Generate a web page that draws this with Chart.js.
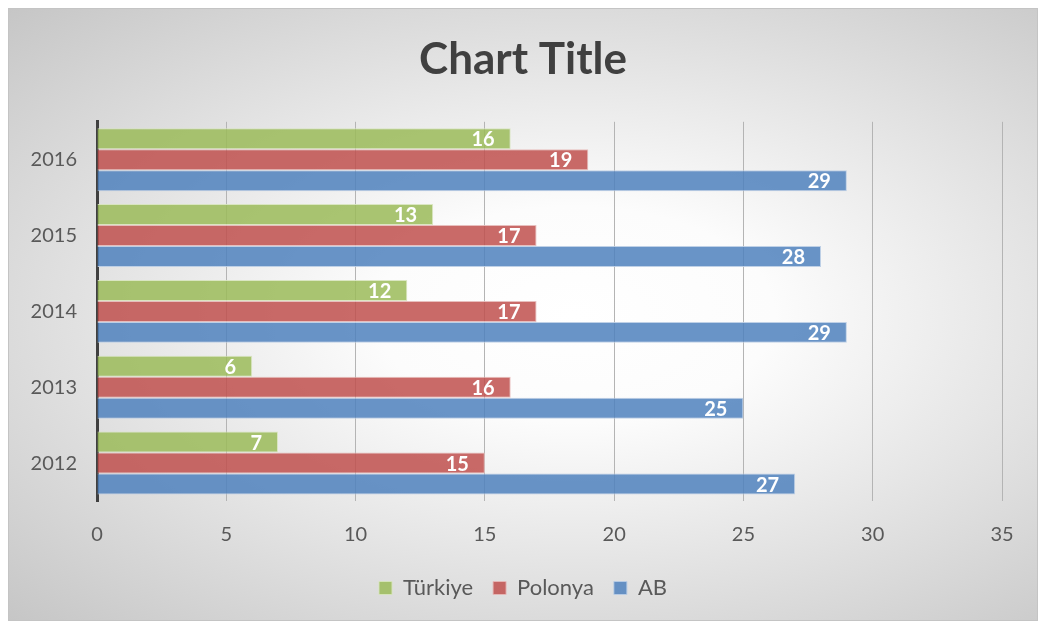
<!DOCTYPE html>
<html>
<head>
<meta charset="utf-8">
<script src="https://cdn.jsdelivr.net/npm/chart.js@4/dist/chart.umd.min.js"></script>
<style>
    html, body { margin: 0; padding: 0; background: #ffffff; }
    #chartBox {
        position: absolute;
        left: 8px;
        top: 8px;
        width: 1028px;
        height: 611px;
        border: 1px solid #c4c4c4;
        background: radial-gradient(ellipse farthest-corner at 55% 50%, #ffffff 0%, #fcfcfc 25%, #c6c6c6 100%);
    }
    #myChart { display: block; }
</style>
</head>
<body>
<div id="chartBox"><canvas id="myChart" width="1028" height="611"></canvas></div>
<script>
// YEARS (TOP TO BOTTOM) AND VALUES PER COUNTRY
const years = ["2016", "2015", "2014", "2013", "2012"];
const turkiye = [16, 13, 12, 6, 7];
const polonya = [19, 17, 17, 16, 15];
const ab = [29, 28, 29, 25, 27];
const xTicks = [0, 5, 10, 15, 20, 25, 30, 35];

// VALUE LABELS INSIDE THE BAR END
const barLabels = {
    id: "barLabels",
    afterDatasetsDraw(chart) {
        const ctx = chart.ctx;
        ctx.save();
        ctx.font = "bold 20px Lato";
        ctx.fillStyle = "#ffffff";
        ctx.textAlign = "right";
        ctx.textBaseline = "middle";
        chart.data.datasets.forEach(function (ds, i) {
            chart.getDatasetMeta(i).data.forEach(function (bar, j) {
                ctx.fillText(String(ds.data[j]), bar.x - 16, bar.y + 1);
            });
        });
        ctx.restore();
    },
};

Chart.defaults.font.family = "Lato";
Chart.defaults.color = "#595959";

const ctx = document.getElementById("myChart").getContext("2d");
new Chart(ctx, {
    type: "bar",
    data: {
        labels: years,
        datasets: [
            {
                label: "Türkiye",
                data: turkiye,
                backgroundColor: "rgba(155, 187, 89, 0.85)",
                borderColor: "rgba(215, 228, 189, 0.9)",
                borderWidth: 1,
            },
            {
                label: "Polonya",
                data: polonya,
                backgroundColor: "rgba(192, 80, 77, 0.85)",
                borderColor: "rgba(230, 184, 183, 0.9)",
                borderWidth: 1,
            },
            {
                label: "AB",
                data: ab,
                backgroundColor: "rgba(79, 129, 189, 0.85)",
                borderColor: "rgba(184, 204, 228, 0.9)",
                borderWidth: 1,
            },
        ],
    },
    options: {
        indexAxis: "y",
        responsive: false,
        animation: false,
        categoryPercentage: 0.83,
        barPercentage: 1.0,
        layout: {
            padding: { left: 0, right: 0, top: 0, bottom: 11 },
        },
        scales: {
            x: {
                min: 0,
                max: 35,
                afterBuildTicks: function (scale) {
                    scale.ticks = xTicks.map(function (v) { return { value: v }; });
                },
                afterFit: function (scale) {
                    scale.height = 56;
                    scale.paddingRight = 35;
                },
                grid: {
                    color: "#b4b4b4",
                    lineWidth: 1,
                    drawTicks: false,
                },
                border: { display: false },
                ticks: {
                    padding: 22,
                    font: { size: 20 },
                    color: "#595959",
                },
            },
            y: {
                z: 1,
                afterFit: function (scale) {
                    scale.width = 88;
                },
                grid: { display: false, drawTicks: false },
                border: { display: true, color: "#404040", width: 3 },
                ticks: {
                    padding: 20,
                    font: { size: 20 },
                    color: "#595959",
                },
            },
        },
        plugins: {
            title: {
                display: true,
                text: "Chart Title",
                color: "#404040",
                font: { size: 44, weight: "bold" },
                padding: { top: 24, bottom: 36 },
            },
            legend: {
                position: "bottom",
                labels: {
                    boxWidth: 13,
                    boxHeight: 13,
                    padding: 20,
                    color: "#595959",
                    font: { size: 22 },
                },
            },
            tooltip: { enabled: false },
        },
    },
    plugins: [barLabels],
});
</script>
</body>
</html>
